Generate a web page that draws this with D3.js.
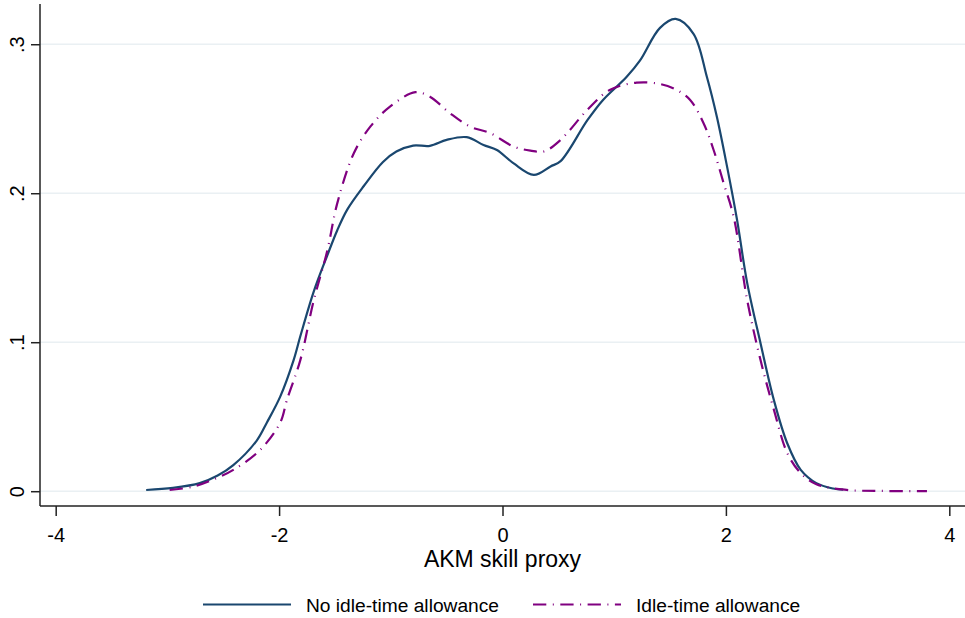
<!DOCTYPE html>
<html>
<head>
<meta charset="utf-8">
<script src="https://cdn.jsdelivr.net/npm/d3@7"></script>
<style>
  html, body { margin: 0; padding: 0; background: #fff; }
  svg { display: block; font-family: "Liberation Sans", Arial, sans-serif; }
</style>
</head>
<body>
<svg id="chart" width="965" height="618"></svg>
<script>
// ---- data ----
const noIdleX = [-3.19, -2.95, -2.71, -2.55, -2.41, -2.2, -2.11, -1.99, -1.87, -1.81, -1.69, -1.57, -1.48, -1.39, -1.24, -1.07, -0.95, -0.80, -0.65, -0.50, -0.32, -0.17, -0.05, 0.10, 0.28, 0.43, 0.52, 0.76, 0.90, 1.11, 1.23, 1.41, 1.55, 1.71, 1.83, 1.92, 2.01, 2.10, 2.19, 2.31, 2.43, 2.55, 2.67, 2.81, 2.96, 3.05];
const noIdleY = [0.0008, 0.0022, 0.0054, 0.0105, 0.0175, 0.034, 0.046, 0.0635, 0.088, 0.104, 0.134, 0.158, 0.175, 0.189, 0.205, 0.221, 0.228, 0.232, 0.2318, 0.2358, 0.2376, 0.2324, 0.229, 0.220, 0.2123, 0.218, 0.2215, 0.249, 0.2626, 0.278, 0.289, 0.311, 0.317, 0.307, 0.278, 0.251, 0.218, 0.182, 0.140, 0.0993, 0.061, 0.032, 0.0143, 0.0054, 0.0018, 0.0010];

const idleX = [-2.98, -2.77, -2.6, -2.41, -2.17, -1.99, -1.93, -1.81, -1.69, -1.57, -1.48, -1.33, -1.18, -1.01, -0.78, -0.65, -0.47, -0.29, -0.11, 0.10, 0.25, 0.37, 0.52, 0.76, 0.96, 1.20, 1.41, 1.56, 1.68, 1.80, 1.89, 1.98, 2.07, 2.19, 2.31, 2.43, 2.55, 2.67, 2.81, 3.08, 3.38, 3.80];
const idleY = [0.0008, 0.003, 0.0075, 0.0143, 0.0277, 0.046, 0.0613, 0.088, 0.128, 0.161, 0.193, 0.227, 0.245, 0.258, 0.2678, 0.2648, 0.2537, 0.2447, 0.2403, 0.2313, 0.2286, 0.228, 0.2358, 0.256, 0.2693, 0.2742, 0.2733, 0.2693, 0.2626, 0.247, 0.229, 0.2067, 0.184, 0.1285, 0.088, 0.0546, 0.0255, 0.0121, 0.0047, 0.0009, 0.0002, 0.0];

const xTicks = [-4, -2, 0, 2, 4];
const xTickLabels = ["-4", "-2", "0", "2", "4"];
const yTicks = [0, 0.1, 0.2, 0.3];
const yTickLabels = ["0", ".1", ".2", ".3"];
const seriesNames = ["No idle-time allowance", "Idle-time allowance"];
const xTitle = "AKM skill proxy";

// ---- layout ----
const svg = d3.select("#chart");
const mLeft = 40, mRight = 965, mTop = 4, mBottom = 506;
const x = d3.scaleLinear().domain([-4.1405, 4.1405]).range([mLeft, mRight]);
const y = d3.scaleLinear().domain([-0.00993, 0.327]).range([mBottom, mTop]);

const navy = "#1a476f", purple = "#800080", gridCol = "#eaf0f3";
const dashPat = "13.3,6.5,1,6.5";

// gridlines
svg.append("g").selectAll("line").data(yTicks).join("line")
  .attr("x1", mLeft).attr("x2", mRight)
  .attr("y1", d => y(d)).attr("y2", d => y(d))
  .attr("stroke", gridCol).attr("stroke-width", 1.6);

// curves
const line = d3.line().x(d => x(d[0])).y(d => y(d[1])).curve(d3.curveCatmullRom.alpha(0.5));
const noIdle = noIdleX.map((v, i) => [v, noIdleY[i]]);
const idle = idleX.map((v, i) => [v, idleY[i]]);

svg.append("path").datum(noIdle).attr("d", line)
  .attr("fill", "none").attr("stroke", navy).attr("stroke-width", 2.2)
  .attr("stroke-linejoin", "round");
svg.append("path").datum(idle).attr("d", line)
  .attr("fill", "none").attr("stroke", purple).attr("stroke-width", 2.2)
  .attr("stroke-dasharray", dashPat);

// y axis
const yAxis = svg.append("g").attr("transform", `translate(${mLeft},0)`)
  .call(d3.axisLeft(y).tickValues(yTicks).tickSize(9).tickFormat((d, i) => yTickLabels[i]));
yAxis.select(".domain").attr("d", `M0,${mTop}V${mBottom}`).attr("stroke", "#222").attr("stroke-width", 1.5);
yAxis.selectAll(".tick line").attr("stroke", "#222").attr("stroke-width", 1.5);
yAxis.selectAll(".tick text")
  .attr("x", null).attr("dy", null)
  .attr("transform", "translate(-16,0) rotate(-90)")
  .attr("text-anchor", "middle")
  .attr("font-size", 20).attr("fill", "#000")
  .attr("font-family", "Liberation Sans, Arial, sans-serif");

// x axis
const xAxis = svg.append("g").attr("transform", `translate(0,${mBottom})`)
  .call(d3.axisBottom(x).tickValues(xTicks).tickSize(10).tickFormat((d, i) => xTickLabels[i]));
xAxis.select(".domain").attr("d", `M${mLeft},0H${mRight}`).attr("stroke", "#222").attr("stroke-width", 1.5);
xAxis.selectAll(".tick line").attr("stroke", "#222").attr("stroke-width", 1.5);
xAxis.selectAll(".tick text")
  .attr("y", 36).attr("dy", null)
  .attr("font-size", 20).attr("fill", "#000")
  .attr("font-family", "Liberation Sans, Arial, sans-serif");

// x title
svg.append("text").attr("x", x(0)).attr("y", 567)
  .attr("text-anchor", "middle").attr("font-size", 23).attr("fill", "#000")
  .text(xTitle);

// legend
const legend = svg.append("g");
const legItems = [
  {name: seriesNames[0], color: navy, dash: null, x0: 203, x1: 291, tx: 306},
  {name: seriesNames[1], color: purple, dash: dashPat, x0: 533, x1: 621, tx: 636}
];
legItems.forEach(it => {
  legend.append("line").attr("x1", it.x0).attr("x2", it.x1).attr("y1", 604.5).attr("y2", 604.5)
    .attr("stroke", it.color).attr("stroke-width", 2.2)
    .attr("stroke-dasharray", it.dash);
  legend.append("text").attr("x", it.tx).attr("y", 612).attr("font-size", 19.2).attr("fill", "#000")
    .text(it.name);
});
</script>
</body>
</html>
